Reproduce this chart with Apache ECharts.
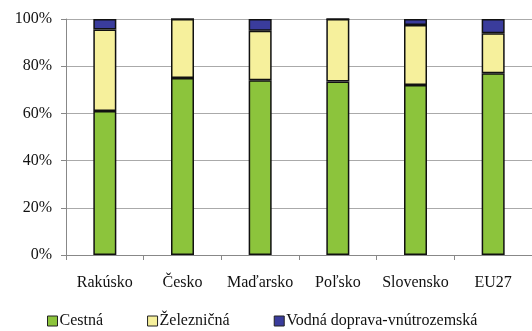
<!DOCTYPE html>
<html>
<head>
<meta charset="utf-8">
<script src="https://cdn.jsdelivr.net/npm/echarts@6/dist/echarts.min.js"></script>
<style>
  html, body { margin: 0; padding: 0; background: #fff; }
  #chart { width: 532px; height: 331px; }
</style>
</head>
<body>
<div id="chart"></div>
<script>
var krajiny = ['Rakúsko', 'Česko', 'Maďarsko', 'Poľsko', 'Slovensko', 'EU27'];
var cestna = [61, 75, 74, 73.5, 72, 77];
var zeleznicna = [34.5, 25, 21, 26.5, 25.5, 17];
var vodna = [4.5, 0, 5, 0, 2.5, 6];
var nazvy = ['Cestná', 'Železničná', 'Vodná doprava-vnútrozemská'];
var farby = ['#8cc43c', '#f6f09c', '#3a3c9c'];

var chart = echarts.init(document.getElementById('chart'));

function seria(name, data) {
  return {
    name: name,
    type: 'bar',
    stack: 'spolu',
    barWidth: 23,
    data: data,
    itemStyle: { borderColor: '#111', borderWidth: 1.5 }
  };
}

var option = {
  animation: false,
  color: farby,
  textStyle: { fontFamily: 'Liberation Serif' },
  grid: { left: 66, top: 19, width: 480, height: 236, containLabel: false },
  legend: {
    left: 47,
    top: 313,
    padding: 0,
    itemWidth: 10,
    itemHeight: 10,
    itemGap: 44,
    icon: 'rect',
    itemStyle: { borderColor: '#222', borderWidth: 1 },
    textStyle: { fontFamily: 'Liberation Serif', fontSize: 16, color: '#111', padding: [0, 0, 0, -3] },
    data: nazvy
  },
  xAxis: {
    type: 'category',
    data: krajiny,
    axisLine: { lineStyle: { color: '#888', width: 1 } },
    axisTick: { show: true, length: 5, interval: 0, alignWithLabel: false, lineStyle: { color: '#888' } },
    axisLabel: { interval: 0, color: '#111', fontSize: 16, margin: 20, fontFamily: 'Liberation Serif' }
  },
  yAxis: {
    type: 'value',
    min: 0,
    max: 100,
    interval: 20,
    axisLine: { show: true, lineStyle: { color: '#888', width: 1 } },
    axisTick: { show: true, length: 5, lineStyle: { color: '#888' } },
    splitLine: { lineStyle: { color: '#aaa', width: 1 } },
    axisLabel: { color: '#111', fontSize: 16, margin: 14, fontFamily: 'Liberation Serif', formatter: '{value}%' }
  },
  series: [
    seria(nazvy[0], cestna),
    seria(nazvy[1], zeleznicna),
    seria(nazvy[2], vodna)
  ]
};

chart.setOption(option);
</script>
</body>
</html>
